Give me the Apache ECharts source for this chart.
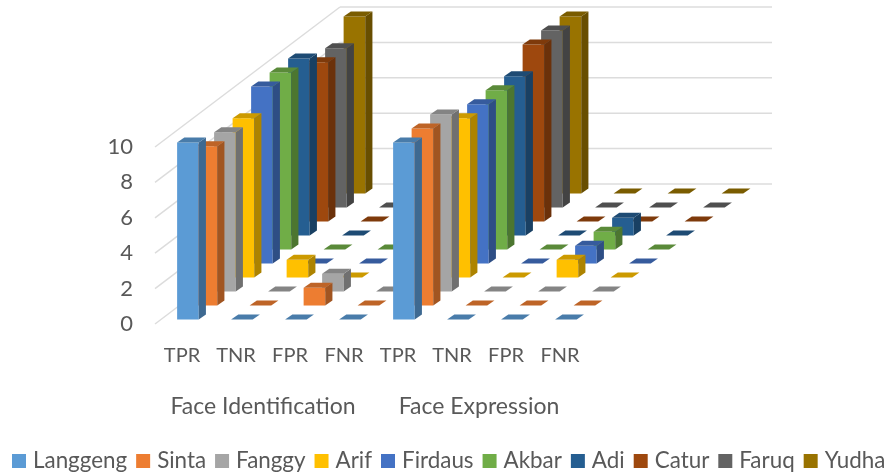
<!doctype html>
<html lang="en">
<head>
    <meta charset="utf-8">
    <title>face recognition rates</title>
    <script src="https://cdn.jsdelivr.net/npm/echarts@6/dist/echarts.min.js"></script>
    <style>
        *{
            margin:0;
            padding:0
        }
        html,body{
            width:100%;
            height:100%;
            background:#fff;
        }
        #main{
            width:891px;
            height:475px;
        }
    </style>
</head>
<body>
<div id="main"></div>
<script type="text/javascript">
    var categories = ['TPR','TNR','FPR','FNR','TPR','TNR','FPR','FNR'];
    var groups = ['Face Identification','Face Expression'];
    var yTicks = [0,2,4,6,8,10];
    var names = ['Langgeng','Sinta','Fanggy','Arif','Firdaus','Akbar','Adi','Catur','Faruq','Yudha'];
    var colors = ['#5B9BD5','#ED7D31','#A5A5A5','#FFC000','#4472C4','#70AD47','#255E91','#9E480E','#636363','#997300'];

    var langgeng = [10,0,0,0, 10,0,0,0];
    var sinta    = [9,0,1,0,  10,0,0,0];
    var fanggy   = [9,0,1,0,  10,0,0,0];
    var arif     = [9,1,0,0,  9,0,1,0];
    var firdaus  = [10,0,0,0, 9,0,1,0];
    var akbar    = [10,0,0,0, 9,0,1,0];
    var adi      = [10,0,0,0, 9,0,1,0];
    var catur    = [9,0,0,0,  10,0,0,0];
    var faruq    = [9,0,0,0,  10,0,0,0];
    var yudha    = [10,0,0,0, 10,0,0,0];
    var values = [langgeng,sinta,fanggy,arif,firdaus,akbar,adi,catur,faruq,yudha];

    // oblique depth: one row per person, going up and to the right
    var rowX = 18.5, rowY = 14;
    var barDepthX = 7.2, barDepthY = 5;
    var rowPad = 0.32;
    var textColor = '#595959';
    var fontName = 'Lato';

    function darken(hex, k){
        var n = parseInt(hex.slice(1),16);
        var r = Math.round((n>>16&255)*k), g = Math.round((n>>8&255)*k), b = Math.round((n&255)*k);
        return 'rgb('+r+','+g+','+b+')';
    }

    function poly(points, color){
        return {type:'polygon', shape:{points:points}, style:{fill:color}};
    }

    function makeBarRenderer(row, color){
        return function(params, api){
            var base = api.coord([api.value(0),0]);
            var top = api.coord([api.value(0),api.value(1)]);
            var w = api.size([1,0])[0]*0.4;
            var ox = rowX*(row+rowPad), oy = rowY*(row+rowPad);
            var x0 = base[0]-w/2+ox, x1 = x0+w;
            var yb = base[1]-oy, yt = top[1]-oy;
            var dx = barDepthX, dy = barDepthY;
            var children = [];
            if (api.value(1) > 0) {
                children.push(poly([[x0,yb],[x1,yb],[x1,yt],[x0,yt]], color));
                children.push(poly([[x1,yb],[x1+dx,yb-dy],[x1+dx,yt-dy],[x1,yt]], darken(color,0.68)));
            }
            children.push(poly([[x0,yt],[x1,yt],[x1+dx,yt-dy],[x0+dx,yt-dy]], darken(color,0.8)));
            return {type:'group', children:children};
        };
    }

    function renderWalls(params, api){
        var sys = params.coordSys;
        var p = api.coord([0,api.value(0)]);
        var dx = rowX*names.length, dy = rowY*names.length;
        var style = {stroke:'#dcdcdc', lineWidth:1.5, fill:null};
        return {type:'group', children:[
            {type:'line', shape:{x1:sys.x,y1:p[1],x2:sys.x+dx,y2:p[1]-dy}, style:style},
            {type:'line', shape:{x1:sys.x+dx,y1:p[1]-dy,x2:sys.x+sys.width+dx,y2:p[1]-dy}, style:style}
        ]};
    }

    var series = [];
    series.push({
        name:'walls',
        type:'custom',
        z:1,
        clip:false,
        silent:true,
        renderItem:renderWalls,
        encode:{y:0},
        data:yTicks.map(function(t){ return [t]; })
    });
    names.forEach(function(name,i){
        series.push({
            name:name,
            type:'custom',
            z:20-i,
            clip:false,
            itemStyle:{color:colors[i]},
            renderItem:makeBarRenderer(i,colors[i]),
            encode:{x:0,y:1},
            data:values[i].map(function(v,c){ return [c,v]; })
        });
    });

    var myChart = echarts.init(document.getElementById('main'));
    myChart.setOption({
        animation:false,
        textStyle:{fontFamily:fontName},
        grid:{left:155,top:147,width:432,height:177},
        legend:{
            data:names,
            left:7,
            top:445,
            width:884,
            icon:'rect',
            itemWidth:14,
            itemHeight:14,
            itemGap:9,
            selectedMode:false,
            textStyle:{color:textColor,fontSize:22.4,fontFamily:fontName,padding:[0,0,0,2]}
        },
        xAxis:[{
            type:'category',
            data:categories,
            axisLine:{show:false},
            axisTick:{show:false},
            axisLabel:{color:textColor,fontSize:20,margin:22,interval:0,fontFamily:fontName}
        },{
            type:'category',
            position:'bottom',
            offset:49,
            data:groups,
            axisLine:{show:false},
            axisTick:{show:false},
            axisLabel:{color:textColor,fontSize:23,margin:22,interval:0,fontFamily:fontName}
        }],
        yAxis:{
            type:'value',
            min:0,
            max:10,
            interval:2,
            axisLine:{show:false},
            axisTick:{show:false},
            splitLine:{show:false},
            axisLabel:{color:textColor,fontSize:22,margin:22,fontFamily:fontName}
        },
        series:series
    });
</script>
</body>
</html>
